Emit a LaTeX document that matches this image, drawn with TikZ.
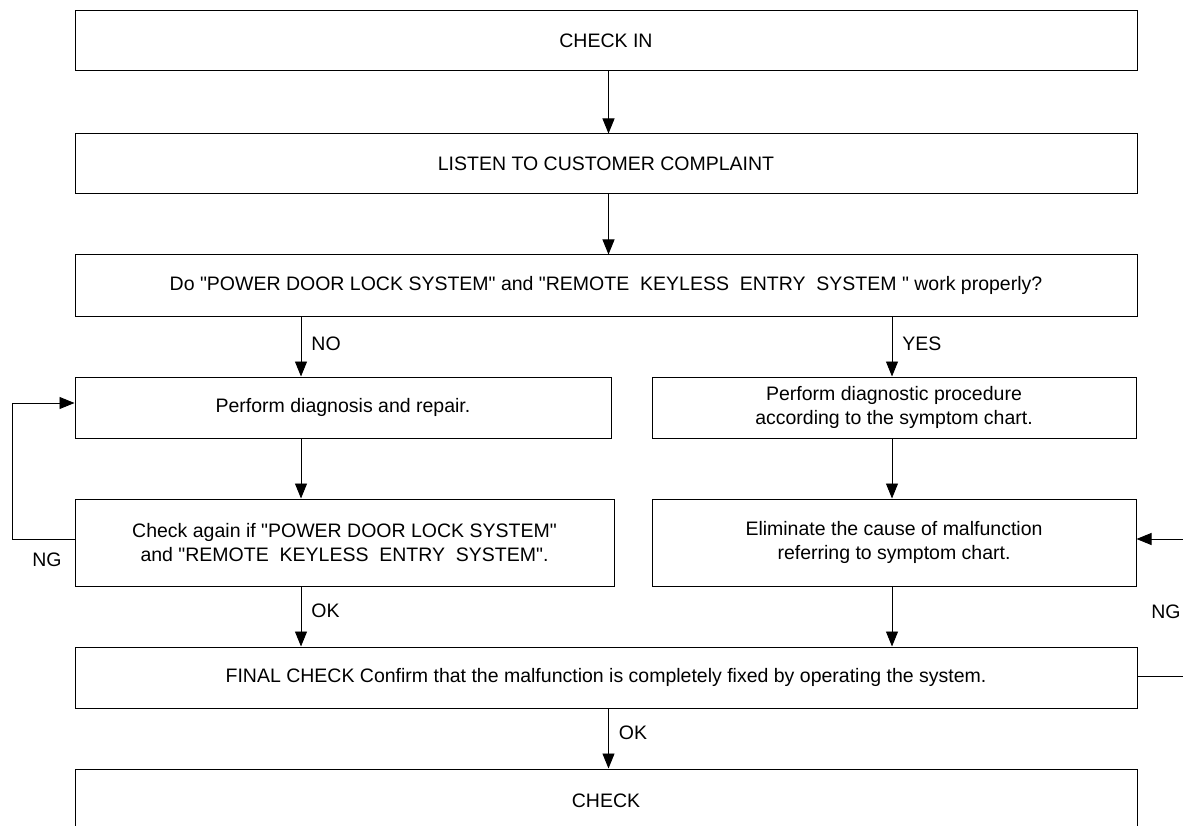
\documentclass[tikz,border=0pt]{standalone}
\usepackage{fontspec}
\newfontfamily\boxfont{Liberation Sans}
\usetikzlibrary{arrows.meta}

\tikzset{
  box/.style={draw, line width=1pt, rectangle, inner sep=0pt, align=center, font=\boxfont\fontsize{19.5}{23.5}\selectfont},
  arr/.style={line width=0.9pt, -{Triangle[length=15pt,width=12pt]}},
  lbl/.style={inner sep=0pt, font=\boxfont\fontsize{19.5}{23.5}\selectfont}
}

\begin{document}
\begin{tikzpicture}[x=1pt,y=1pt,yscale=-1,xscale=1]
\useasboundingbox (0,0) rectangle (1183,826);
\clip (0,0) rectangle (1183,826);

% Boxes
\node[box, minimum width=1062, minimum height=60] (checkin) at (606,41) {CHECK IN};
\node[box, minimum width=1062, minimum height=60] (listen) at (606,164) {LISTEN TO CUSTOMER COMPLAINT};
\node[box, minimum width=1062, minimum height=61] (question) at (606,285.5) {Do "POWER DOOR LOCK SYSTEM" and "REMOTE\ \ KEYLESS\ \ ENTRY\ \ SYSTEM " work properly?};
\node[box, minimum width=536, minimum height=61] (diag) at (343,407.5) {Perform diagnosis and repair.};
\node[box, minimum width=484, minimum height=61] (symp) at (894,407.5) {Perform diagnostic procedure\\according to the symptom chart.};
\node[box, minimum width=539, minimum height=87] (again) at (344.5,542.5) {Check again if "POWER DOOR LOCK SYSTEM"\\and "REMOTE\ \ KEYLESS\ \ ENTRY\ \ SYSTEM".};
\node[box, minimum width=484, minimum height=87] (elim) at (894,542.5) {Eliminate the cause of malfunction\\referring to symptom chart.};
\node[box, minimum width=1062, minimum height=61] (final) at (606,677.5) {FINAL CHECK Confirm that the malfunction is completely fixed by operating the system.};
\node[box, minimum width=1062, minimum height=120] (check) at (606,829) {};
\node[lbl] (checktxt) at (606,801) {CHECK};

% Column coordinates
\coordinate (colL) at (301,0);
\coordinate (colR) at (892,0);
\coordinate (colM) at (608.5,0);

% Connectors
\draw[arr] (checkin.south -| colM) -- (listen.north -| colM);
\draw[arr] (listen.south -| colM) -- (question.north -| colM);
\draw[arr] (question.south -| colL) -- node[lbl, right=10pt, pos=0.45] (no) {NO} (diag.north -| colL);
\draw[arr] (question.south -| colR) -- node[lbl, right=10pt, pos=0.45] (yes) {YES} (symp.north -| colR);
\draw[arr] (diag.south -| colL) -- (again.north -| colL);
\draw[arr] (symp.south -| colR) -- (elim.north -| colR);
\draw[arr] (again.south -| colL) -- node[lbl, right=10pt, pos=0.4] (ok1) {OK} (final.north -| colL);
\draw[arr] (elim.south -| colR) -- (final.north -| colR);
\draw[arr] (final.south -| colM) -- node[lbl, right=10pt, pos=0.4] (ok2) {OK} (check.north -| colM);

% NG loops
\draw[arr] ([yshift=-3.5pt]again.west) -- ++(-62,0) |- ([yshift=-4.5pt]diag.west);
\node[lbl] (ngL) at (47,560) {NG};
\draw[arr] ([yshift=-1.5pt]final.east) -- ++(60,0) |- ([yshift=-3.5pt]elim.east);
\node[lbl] (ngR) at (1166,612) {NG};

\end{tikzpicture}
\end{document}
